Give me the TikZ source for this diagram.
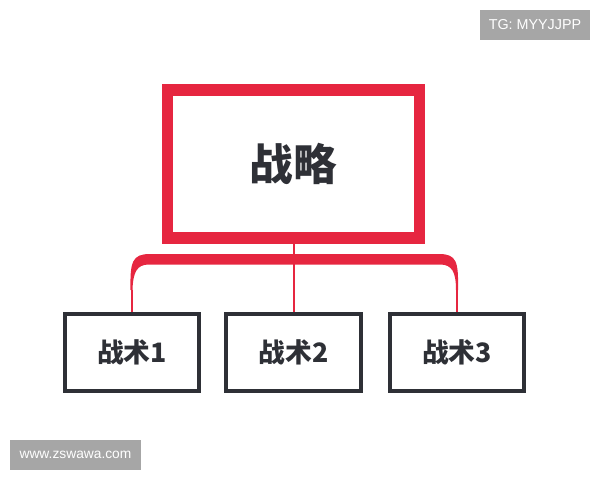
\documentclass[tikz,border=0pt]{standalone}
\usepackage{fontspec}
\newfontfamily\cjk{Noto Sans CJK SC}
\setsansfont{Liberation Sans}
\definecolor{strategyred}{HTML}{E62640}
\definecolor{boxgray}{HTML}{2E3036}
\definecolor{markgray}{HTML}{A6A6A6}
\tikzset{
	topbox/.style = {draw = strategyred, line width = 0.29cm, minimum width = 6.29cm, minimum height = 3.7cm, inner sep = 0, text = boxgray, font = \cjk\bfseries\fontsize{31}{36}\selectfont},
	tacticbox/.style = {draw = boxgray, line width = 0.1cm, minimum width = 3.35cm, minimum height = 1.9cm, inner sep = 0, text = boxgray, font = \cjk\bfseries\fontsize{19}{23}\selectfont},
	markbox/.style = {fill = markgray, text = white, inner sep = 0, minimum height = 0.75cm, font = \sffamily},
	link/.style = {draw = strategyred, line width = 0.05cm}
}
\begin{document}
\begin{tikzpicture}[x = 0.025cm, y = -0.025cm]
	\useasboundingbox (0,0) rectangle (600,480);
	
	\node[topbox] (strategy) at (293.5,164) {战略};
	
	\node[tacticbox] (tactic1) at (132,352.5) {战术1};
	\node[tacticbox] (tactic2) at (293.5,352.5) {战术2};
	\node[tacticbox] (tactic3) at (457,352.5) {战术3};
	
	\coordinate (left) at (131.5,290);
	\coordinate (right) at (457,290);
	
	\fill[strategyred] (130.5,290) .. controls (130,262) and (132,254) .. (150,254) -- (439,254)
		.. controls (457,254) and (458.5,262) .. (458,290) -- (456,290)
		.. controls (456,272) and (452,264.5) .. (440,264.5) -- (149,264.5)
		.. controls (137,264.5) and (133,272) .. (132.5,290) -- cycle;
	
	\draw[link] (strategy.south) -- (tactic2.north);
	\draw[link] (left) -- (tactic1.north -| left);
	\draw[link] (right) -- (tactic3.north -| right);
	
	\node[markbox, minimum width = 2.75cm] (tg) at (535,25) {\fontsize{10.2}{12}\selectfont TG: MYYJJPP};
	\node[markbox, minimum width = 3.28cm] (site) at (75.5,455) {\fontsize{9.8}{12}\selectfont www.zswawa.com};
\end{tikzpicture}
\end{document}
